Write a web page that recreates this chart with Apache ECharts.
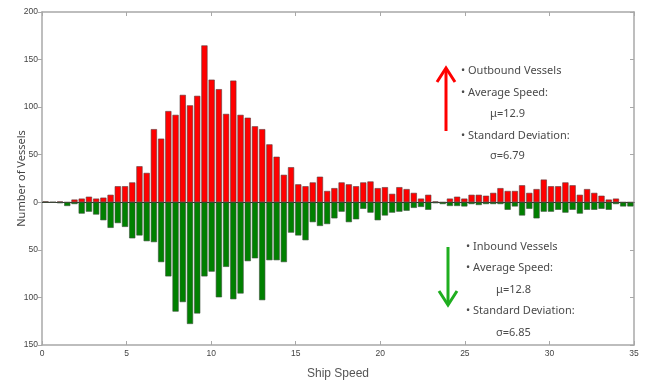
<!DOCTYPE html>
<html>
<head>
<meta charset="utf-8">
<script src="https://cdn.jsdelivr.net/npm/echarts@6/dist/echarts.min.js"></script>
<style>
  html,body{margin:0;padding:0;background:#fff;}
  #main{width:648px;height:385px;}
</style>
</head>
<body>
<div id="main"></div>
<script>
// number of vessels per speed bin (82 bins over 0-35 knots)
const outbound = [1,0,1,0,3,4,6,4,5,8,17,17,21,38,31,77,67,96,92,113,
  102,112,165,129,119,93,128,92,89,80,77,61,48,29,37,19,17,21,27,12,
  15,21,19,17,21,22,15,16,9,16,14,10,4,8,1,0,4,6,4,8,
  8,7,10,15,12,12,18,10,14,24,17,17,21,18,8,14,10,7,3,4,0,0];
const inbound = [0,0,1,4,2,12,10,13,19,27,22,26,38,35,41,42,63,78,115,105,
  128,117,78,73,100,68,102,96,62,59,103,61,61,63,32,35,40,21,25,23,
  17,10,21,18,7,11,19,14,11,10,9,6,5,8,1,2,4,4,4.5,2,
  3,2,2,2,8,4.5,14,7,17,10,10,8,11,8,12,8,8,7,8,2,4.5,4.5];
const speedMax = 35;
const yTicks = [-150,-100,-50,0,50,100,150,200];
const outText = ['• Outbound Vessels','• Average Speed:','μ=12.9','• Standard Deviation:','σ=6.79'];
const inText = ['• Inbound Vessels','• Average Speed:','μ=12.8','• Standard Deviation:','σ=6.85'];

const bins = outbound.map((v,i)=>((i+0.5)*speedMax/outbound.length).toFixed(2));

const chart = echarts.init(document.getElementById('main'), null, {renderer:'canvas'});

const frame = '#a8a8a8';
const txt = {fontFamily:'Noto Sans', fontSize:11, fill:'#4a4a4a'};

function textBlock(lines, x0, xIndent, ys){
  return lines.map((s,i)=>({
    type:'text',
    x: (i===2||i===4) ? xIndent : x0,
    y: ys[i],
    style: Object.assign({text:s, verticalAlign:'middle'}, txt)
  }));
}

const option = {
  animation:false,
  grid:{left:42, right:14, top:12, bottom:40, show:false, containLabel:false, outerBoundsMode:'none'},
  xAxis:[
    {
      type:'category', data:bins, boundaryGap:true,
      axisLine:{show:true, onZero:true, lineStyle:{color:'#333', width:1}},
      axisTick:{show:false}, axisLabel:{show:false}, splitLine:{show:false}
    },
    {
      type:'value', position:'bottom', min:0, max:speedMax, interval:5,
      axisLine:{onZero:false, lineStyle:{color:frame, width:1.5}},
      axisTick:{inside:true, length:4, lineStyle:{color:frame}},
      axisLabel:{color:'#444', fontSize:8.5, fontFamily:'Liberation Sans', margin:4},
      splitLine:{show:false},
      name:'Ship Speed', nameLocation:'middle', nameGap:23, nameMoveOverlap:false,
      nameTextStyle:{color:'#555', fontSize:12, fontFamily:'Liberation Sans'}
    },
    {
      type:'value', position:'top', min:0, max:speedMax, interval:5,
      axisLine:{onZero:false, lineStyle:{color:frame, width:1.5}},
      axisTick:{inside:true, length:4, lineStyle:{color:frame}},
      axisLabel:{show:false}, splitLine:{show:false}
    }
  ],
  yAxis:[
    {
      type:'value', min:yTicks[0], max:yTicks[yTicks.length-1], interval:50,
      axisLine:{show:true, onZero:false, lineStyle:{color:frame, width:1.5}},
      axisTick:{show:true, length:4, lineStyle:{color:frame}},
      axisLabel:{color:'#444', fontSize:8.5, fontFamily:'Liberation Sans', margin:4,
        formatter:v=>String(Math.abs(v))},
      splitLine:{show:false},
      name:'Number of Vessels', nameLocation:'middle', nameGap:15, nameRotate:90, nameMoveOverlap:false,
      nameTextStyle:{color:'#444', fontSize:11, fontFamily:'Noto Sans'}
    },
    {
      type:'value', position:'right', min:yTicks[0], max:yTicks[yTicks.length-1], interval:50,
      axisLine:{show:true, onZero:false, lineStyle:{color:frame, width:1.5}},
      axisTick:{show:true, inside:true, length:4, lineStyle:{color:frame}},
      axisLabel:{show:false}, splitLine:{show:false}
    }
  ],
  series:[
    {
      name:'Outbound', type:'bar', xAxisIndex:0, yAxisIndex:0,
      data:outbound, barCategoryGap:'12%', barGap:'-100%',
      itemStyle:{color:'#ff0000', borderColor:'rgba(90,60,60,0.75)', borderWidth:0.8}
    },
    {
      name:'Inbound', type:'bar', xAxisIndex:0, yAxisIndex:0,
      data:inbound.map(v=>-v), barCategoryGap:'12%', barGap:'-100%',
      itemStyle:{color:'#008000', borderColor:'rgba(60,80,60,0.75)', borderWidth:0.8}
    }
  ],
  graphic:[
    // red up arrow
    {type:'line', shape:{x1:446, y1:70, x2:446, y2:131}, style:{stroke:'#ff0000', lineWidth:3}},
    {type:'polyline', shape:{points:[[437,82],[446,68],[455,82]]}, style:{stroke:'#ff0000', lineWidth:3, fill:null}},
    // green down arrow
    {type:'line', shape:{x1:448, y1:247, x2:448, y2:304}, style:{stroke:'#1fae1f', lineWidth:3}},
    {type:'polyline', shape:{points:[[439,291],[448,305],[457,291]]}, style:{stroke:'#1fae1f', lineWidth:3, fill:null}}
  ].concat(
    textBlock(outText, 461, 490, [71,93,114,136,156]),
    textBlock(inText, 466, 496, [247,268,290,311,333])
  )
};
chart.setOption(option);
</script>
</body>
</html>
